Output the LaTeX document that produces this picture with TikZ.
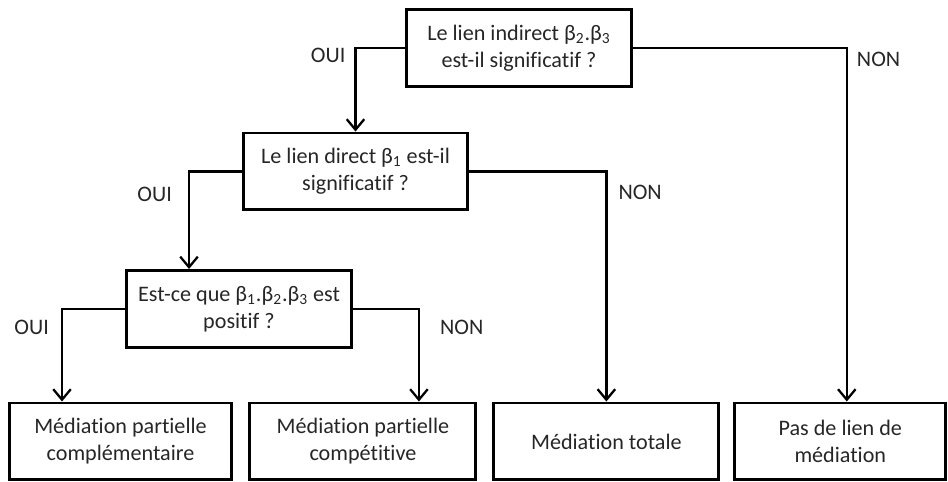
\documentclass[tikz,border=0pt]{standalone}
\usepackage{fontspec}
\setmainfont{Carlito}[Ligatures={NoCommon}]
\usetikzlibrary{arrows.meta,positioning}

\begin{document}
\begin{tikzpicture}[
    x=0.02cm, y=-0.02cm,
    node distance=0.3cm,
    box/.style={draw, line width=1.7pt, align=center, minimum width=4.5cm, minimum height=1.54cm, inner sep=2pt, text=black!85, font=\fontsize{12.6}{15.4}\selectfont},
    lbl/.style={inner sep=0pt, text=black!85, font=\fontsize{12.6}{15.4}\selectfont},
    link/.style={line width=1.3pt, -{Straight Barb[length=6pt,width=10pt]}}
]
\useasboundingbox (0,0) rectangle (948,482);

\node[box] (indirect) at (519,48) {Le lien indirect β\textsubscript{2}.β\textsubscript{3}\\est-il significatif ?};
\node[box] (direct) at (355.5,171.5) {Le lien direct β\textsubscript{1} est-il\\significatif ?};
\node[box] (signe) at (239,309) {Est-ce que β\textsubscript{1}.β\textsubscript{2}.β\textsubscript{3} est\\positif ?};

\node[box, minimum width=4.46cm] (complem) at (120.5,441.5) {Médiation partielle\\complémentaire};
\node[box, minimum width=4.52cm, right=of complem] (compet) {Médiation partielle\\compétitive};
\node[box, right=of compet] (totale) {Médiation totale};
\node[box, minimum width=4.22cm, right=0.26cm of totale] (aucun) {Pas de lien de\\médiation};

\draw[link] (indirect.west) -| node[lbl, left=0.18cm, yshift=-0.14cm] {OUI} (direct.north);
\draw[link] (indirect.east) -| node[lbl, right=0.18cm, yshift=-0.22cm] {NON} ([xshift=0.13cm]aucun.north);
\draw[link] (direct.west) -| node[lbl, left=0.32cm, yshift=-0.46cm] {OUI} ([xshift=-1cm]signe.north);
\draw[link] (direct.east) -| node[lbl, right=0.22cm, yshift=-0.42cm] {NON} (totale.north);
\draw[link] (signe.west) -| node[lbl, left=0.24cm, yshift=-0.36cm] {OUI} ([xshift=-1.17cm]complem.north);
\draw[link] (signe.east) -| node[lbl, right=0.4cm, yshift=-0.36cm] {NON} ([xshift=1.12cm]compet.north);
\end{tikzpicture}
\end{document}
